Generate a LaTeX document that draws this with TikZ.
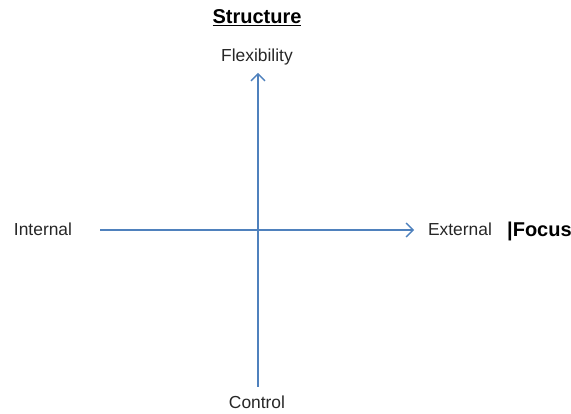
\documentclass[tikz,border=0pt]{standalone}
\usepackage{fontspec}
\setmainfont{Liberation Sans}
\usetikzlibrary{arrows.meta}
\definecolor{axisblue}{RGB}{79,129,189}
\tikzset{
  axis/.style={draw=axisblue, line width=1.3pt, -{Straight Barb[length=7pt,width=14pt,line width=1.3pt]}},
  lbl/.style={font=\fontsize{17.4}{20}\selectfont, text=black!85, inner sep=0pt, anchor=base},
  title/.style={font=\fontsize{20}{24}\selectfont\bfseries, text=black, inner sep=0pt, anchor=base}
}
\begin{document}
\begin{tikzpicture}[x=1pt,y=-1pt]
\useasboundingbox (0,0) rectangle (571,414);
\node[title] (structure) at (257,24) {\underline{Structure}};
\node[lbl] (flex) at (257,62) {Flexibility};
\node[lbl] (internal) at (43,236) {Internal};
\node[lbl] (external) at (460,236) {External};
\node[title, anchor=base west] (focus) at (507,236.5) {|Focus};
\node[lbl] (control) at (257,409) {Control};
\coordinate (vbot) at (258,387);
\coordinate (vtop) at (258,73);
\coordinate (hleft) at (100,230);
\coordinate (hright) at (414,230);
\draw[axis] (vbot) -- (vtop);
\draw[axis] (hleft) -- (hright);
\end{tikzpicture}
\end{document}
